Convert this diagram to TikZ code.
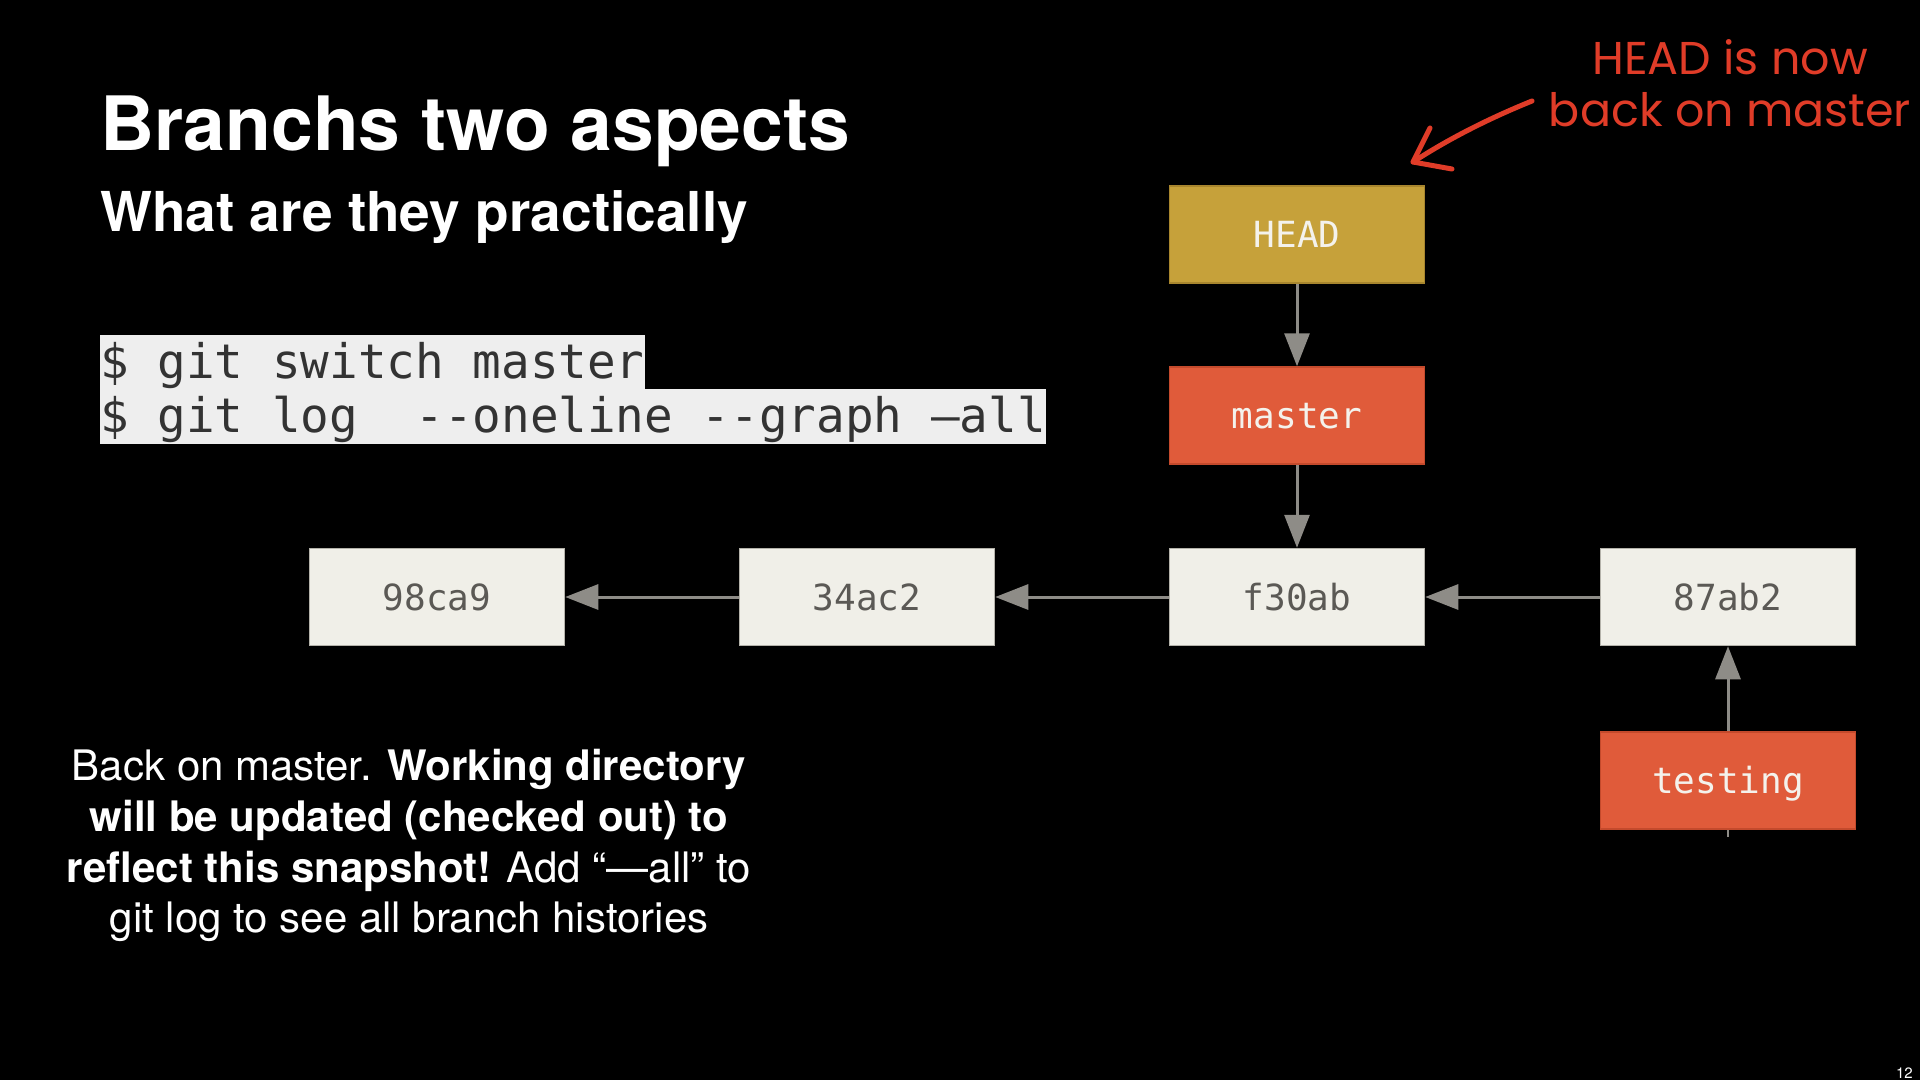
\documentclass[tikz,border=0pt]{standalone}
\usepackage{fontspec}
\setmainfont{TeX Gyre Heros}
\setmonofont{DejaVu Sans Mono}
\newfontfamily\handfont{Poppins}
\usetikzlibrary{arrows.meta}

\definecolor{commitfill}{HTML}{F0EFE8}
\definecolor{commitline}{HTML}{B4B2AA}
\definecolor{committext}{HTML}{5B5955}
\definecolor{headfill}{HTML}{C6A13A}
\definecolor{headline}{HTML}{A8862E}
\definecolor{branchfill}{HTML}{E05B3A}
\definecolor{branchline}{HTML}{C44A2C}
\definecolor{branchtext}{HTML}{F4F2EC}
\definecolor{linkgray}{HTML}{8E8C87}
\definecolor{codebg}{HTML}{EEEEEE}
\definecolor{codetext}{HTML}{333333}
\definecolor{pen}{RGB}{224,60,40}

\tikzset{
  boxbase/.style={rectangle, line width=1.5pt, minimum width=255pt, minimum height=97pt,
    inner sep=0pt, text height=26pt, text depth=0pt, font=\ttfamily\fontsize{36}{40}\selectfont},
  commit/.style={boxbase, fill=commitfill, draw=commitline, text=committext},
  headref/.style={boxbase, fill=headfill, draw=headline, text=branchtext},
  branchref/.style={boxbase, fill=branchfill, draw=branchline, text=branchtext},
  link/.style={draw=linkgray, line width=3pt, -{Triangle[length=33pt,width=25pt]}},
  codeline/.style={fill=codebg, text=codetext, inner sep=0pt, anchor=north west,
    font=\ttfamily\fontsize{47.6}{54}\selectfont},
  bodyline/.style={text=white, anchor=base, inner sep=0pt, font=\fontsize{42}{51}\selectfont},
  handnote/.style={text=pen, anchor=base, inner sep=0pt, font=\handfont\fontsize{46}{52}\selectfont},
  handpen/.style={draw=pen, line width=5pt, line cap=round, line join=round}
}

\begin{document}
\begin{tikzpicture}[x=1pt, y=-1pt]
  % canvas
  \fill[black] (0,0) rectangle (1920,1080);
  \useasboundingbox (0,0) rectangle (1920,1080);

  % headings
  \node[text=white, anchor=base west, inner sep=0pt, font=\bfseries\fontsize{75}{90}\selectfont]
    (title) at (100,150) {Branchs two aspects};
  \node[text=white, anchor=base west, inner sep=0pt, font=\bfseries\fontsize{55}{66}\selectfont]
    (subtitle) at (100,231) {What are they practically};

  % commands
  \node[codeline, text height=43pt, text depth=11pt] (cmd1) at (100,335)
    {\$ git switch master};
  \node[codeline, text height=43pt, text depth=12pt] (cmd2) at (100,389)
    {\$ git log\ \ --oneline --graph —all};

  % explanation
  \node[bodyline] (b1) at (409,780) {Back on master. \textbf{Working directory}};
  \node[bodyline] (b2) at (409,831) {\textbf{will be updated (checked out) to}};
  \node[bodyline] (b3) at (409,882) {\textbf{reflect this snapshot!} Add “—all” to};
  \node[bodyline] (b4) at (409,932) {git log to see all branch histories};

  % commit graph
  \node[commit] (c1) at (437,597) {98ca9};
  \node[commit] (c2) at (867,597) {34ac2};
  \node[commit] (c3) at (1297,597) {f30ab};
  \node[commit] (c4) at (1728,597) {87ab2};
  \node[headref] (head) at (1297,234.5) {HEAD};
  \node[branchref] (master) at (1297,415.5) {master};
  \node[branchref] (testing) at (1728,780.5) {testing};

  \draw[link] (c2) -- (c1);
  \draw[link] (c3) -- (c2);
  \draw[link] (c4) -- (c3);
  \draw[link] (head) -- (master);
  \draw[link] (master) -- (c3);
  \draw[link] (testing) -- (c4);
  \draw[draw=linkgray, line width=2pt] (testing.south) -- ++(0,7);

  % handwritten note
  \node[handnote] (note1) at (1730,74) {HEAD is now};
  \node[handnote] (note2) at (1730,126) {back on master};
  \coordinate (penstart) at (1532,101);
  \coordinate (pentip) at (1413,162);
  \draw[handpen] (penstart) .. controls (1490,118) and (1450,138) .. (pentip);
  \draw[handpen] (1430,128) -- (pentip) -- (1452,169);

  % slide number
  \node[text=white, anchor=base east, inner sep=0pt, font=\fontsize{15}{18}\selectfont]
    (pageno) at (1913,1078) {12};
\end{tikzpicture}
\end{document}
